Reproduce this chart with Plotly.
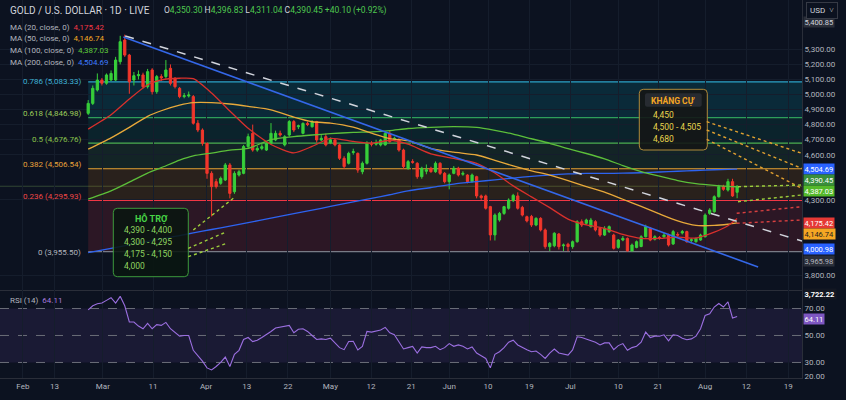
import plotly.graph_objects as go
from plotly.subplots import make_subplots

# daily candles, left to right
opens = [4875, 4941, 5030, 5096, 5075, 5096, 5096, 5218, 5362, 5262,
         5096, 5125, 5130, 5052, 5163, 5019, 5119, 5119, 5174, 5108,
         5041, 4986, 4990, 4986, 4809, 4764, 4676, 4476, 4421, 4410,
         4432, 4532, 4354, 4465, 4476, 4654, 4742, 4631, 4642, 4631,
         4676, 4698, 4742, 4665, 4731, 4820, 4786, 4742, 4808, 4786,
         4820, 4698, 4720, 4680, 4698, 4665, 4576, 4543, 4615, 4609,
         4487, 4543, 4676, 4670, 4665, 4665, 4742, 4700, 4698, 4631,
         4509, 4554, 4543, 4454, 4490, 4510, 4487, 4543, 4476, 4421,
         4476, 4510, 4470, 4465, 4421, 4454, 4326, 4326, 4255, 4067,
         4166, 4210, 4244, 4295, 4326, 4250, 4188, 4190, 4133, 4177,
         4100, 3989, 3995, 4073, 3995, 4005, 3989, 4022, 4155, 4144,
         4122, 4155, 4111, 4066, 4089, 4066, 3984, 4033, 4044, 3960,
         3984, 3990, 4055, 4111, 4038, 4050, 4055, 4066, 4007, 4070,
         4080, 4089, 4030, 4022, 4033, 4055, 4210, 4221, 4321, 4388,
         4365, 4421, 4350.30]
highs = [4963, 5060, 5140, 5110, 5140, 5160, 5250, 5390, 5398, 5270,
         5150, 5160, 5145, 5170, 5175, 5130, 5135, 5229, 5200, 5115,
         5050, 5010, 5020, 4997, 4830, 4775, 4680, 4490, 4440, 4455,
         4545, 4545, 4490, 4500, 4665, 4740, 4800, 4660, 4670, 4690,
         4810, 4760, 4760, 4730, 4830, 4830, 4800, 4815, 4820, 4830,
         4825, 4730, 4740, 4715, 4705, 4670, 4590, 4620, 4640, 4615,
         4555, 4690, 4690, 4700, 4705, 4755, 4760, 4720, 4710, 4640,
         4565, 4570, 4550, 4520, 4535, 4520, 4555, 4550, 4485, 4475,
         4525, 4520, 4490, 4470, 4475, 4460, 4335, 4335, 4260, 4210,
         4220, 4260, 4310, 4340, 4350, 4260, 4195, 4200, 4185, 4185,
         4110, 4020, 4085, 4080, 4010, 4015, 4030, 4165, 4170, 4175,
         4180, 4165, 4120, 4125, 4130, 4075, 4040, 4060, 4050, 4010,
         4030, 4065, 4135, 4120, 4065, 4060, 4080, 4075, 4100, 4085,
         4100, 4095, 4045, 4050, 4075, 4210, 4245, 4330, 4400, 4400,
         4440, 4440, 4396.83]
lows = [4864, 4930, 5020, 5060, 5065, 5090, 5090, 5200, 5250, 5005,
        5060, 5100, 5040, 5040, 5000, 5005, 5090, 5105, 5060, 5040,
        4975, 4975, 4980, 4800, 4750, 4660, 4440, 4190, 4375, 4400,
        4425, 4310, 4340, 4455, 4470, 4640, 4620, 4620, 4630, 4625,
        4670, 4690, 4720, 4655, 4720, 4750, 4770, 4735, 4790, 4780,
        4680, 4690, 4655, 4670, 4655, 4565, 4505, 4535, 4600, 4480,
        4470, 4535, 4655, 4660, 4655, 4660, 4680, 4690, 4620, 4505,
        4500, 4540, 4440, 4440, 4470, 4480, 4480, 4465, 4410, 4370,
        4470, 4455, 4460, 4410, 4415, 4310, 4300, 4235, 4030, 4030,
        4155, 4200, 4235, 4285, 4235, 4190, 4150, 4120, 4125, 4090,
        3975, 3960, 3985, 3970, 3960, 3958, 3975, 4015, 4120, 4135,
        4115, 4090, 4055, 4060, 4080, 3970, 3975, 4025, 3955.50, 3958,
        3978, 3985, 4050, 4025, 4030, 4035, 4045, 3990, 4000, 4055,
        4070, 4015, 4020, 4015, 4028, 4050, 4200, 4215, 4315, 4360,
        4355, 4320, 4311.04]
closes = [4941, 5041, 5096, 5075, 5130, 5140, 5229, 5351, 5262, 5085,
          5125, 5132, 5052, 5152, 5019, 5119, 5110, 5163, 5074, 5052,
          4986, 4992, 4997, 4809, 4764, 4676, 4476, 4388, 4388, 4443,
          4532, 4343, 4476, 4487, 4654, 4720, 4631, 4642, 4653, 4676,
          4742, 4742, 4731, 4720, 4820, 4764, 4792, 4808, 4800, 4820,
          4698, 4709, 4665, 4700, 4665, 4576, 4521, 4609, 4620, 4498,
          4543, 4676, 4670, 4680, 4698, 4742, 4687, 4709, 4631, 4521,
          4554, 4550, 4454, 4510, 4500, 4487, 4543, 4476, 4421, 4465,
          4510, 4465, 4476, 4421, 4465, 4326, 4315, 4244, 4067, 4199,
          4210, 4255, 4299, 4330, 4244, 4199, 4160, 4133, 4177, 4100,
          3989, 4011, 4078, 3989, 4000, 3990, 4022, 4155, 4133, 4166,
          4166, 4100, 4066, 4111, 4122, 3978, 4033, 4044, 3962, 4000,
          4022, 4055, 4122, 4033, 4055, 4045, 4066, 4000, 4089, 4066,
          4089, 4022, 4035, 4044, 4066, 4199, 4233, 4321, 4388, 4370,
          4421, 4326, 4390.45]
rsi_values = [69, 72, 73.5, 74, 76, 78, 74, 79, 72, 60,
              60, 57, 55, 59, 55, 58, 57.5, 59.7, 55, 52,
              49.5, 50, 50, 39, 35, 31, 26, 24.5, 27, 30,
              34, 27, 36, 39, 47, 48.5, 45.5, 46.5, 48.5, 50.5,
              53, 55.5, 56, 57, 57.5, 52, 54.6, 55, 53, 50,
              47, 47.5, 47, 48, 44.5, 41, 39.5, 45.5, 45.7, 39.3,
              41.9, 53, 52.5, 53, 54, 56, 52, 50.5, 45, 40,
              41, 41.9, 37, 41.5, 41, 41, 42, 39.5, 41, 44,
              42, 43, 42, 40, 41.5, 37, 35, 33, 26, 36,
              38, 41, 45, 46.5, 43, 41, 39.5, 38, 38.5, 36,
              33, 37, 40, 37, 36, 35.5, 39.3, 49, 48.5, 47.5,
              46.5, 45, 43, 44.5, 44.5, 39.5, 42.5, 44, 39, 41,
              42, 45, 52.5, 48.5, 49.5, 49.5, 50.5, 46, 50.5, 50,
              48, 46.9, 47.5, 49.5, 55, 64.8, 66, 71.1, 73.7, 71.1,
              74.9, 63, 64.11]

# moving averages, read at some of the bars
ma_bars = [0, 5, 9, 13, 16, 20, 23, 27, 31, 35, 40, 45, 49, 53, 58, 62, 66, 70,
           75, 80, 85, 89, 93, 97, 101, 105, 109, 113, 117, 121, 125, 129, 133,
           137, 140, 142]
ma20 = [4770, 4865, 4970, 5065, 5097, 5108, 5105, 5010, 4890, 4775, 4668, 4612,
        4655, 4708, 4688, 4676, 4696, 4670, 4606, 4575, 4543, 4478, 4393, 4320,
        4248, 4172, 4133, 4111, 4070, 4044, 4044, 4052, 4046, 4085, 4128, 4175.42]
ma50 = [4637, 4712, 4782, 4855, 4892, 4929, 4946, 4946, 4937, 4921, 4898, 4850,
        4819, 4810, 4783, 4743, 4707, 4693, 4641, 4617, 4598, 4562, 4525, 4492,
        4465, 4428, 4388, 4351, 4304, 4257, 4207, 4160, 4130, 4130, 4138, 4146.74]
ma100 = [4305, 4360, 4418, 4478, 4514, 4564, 4592, 4611, 4630, 4642, 4700, 4720,
         4731, 4740, 4748, 4752, 4760, 4774, 4782, 4786, 4782, 4762, 4737, 4706,
         4676, 4640, 4608, 4572, 4528, 4488, 4457, 4428, 4408, 4396, 4390, 4387.03]
ma200 = [3950, 3978, 4001, 4024, 4041, 4063, 4080, 4103, 4126, 4149, 4178, 4208,
         4232, 4256, 4286, 4310, 4334, 4360, 4382, 4405, 4421, 4433, 4445, 4456,
         4465, 4472, 4476, 4476, 4477, 4480, 4485, 4490, 4495, 4500, 4503, 4504.69]

fib_ratios = ["0", "0.236", "0.382", "0.5", "0.618", "0.786"]
fib_prices = [3955.50, 4295.93, 4506.54, 4676.76, 4846.98, 5083.33]

# trend lines: (bar, price) at each end
trend_blue = ([7.7, 146.6], [5382, 3854])
trend_dash = ([8.1, 156.2], [5389, 4026])

x_tick_bars = [-14.3, -7.4, 3.2, 14.2, 25.8, 34.7, 43.7, 53.0, 61.9, 70.7,
               79.0, 87.5, 96.5, 105.5, 116.0, 124.7, 135.0, 144.0, 153.2]
x_tick_text = ["Feb", "13", "Mar", "11", "Apr", "13", "22", "May", "12", "21",
               "Jun", "10", "19", "Jul", "10", "21", "Aug", "12", "19"]
price_ticks = [3800, 4300, 4600, 4700, 4800, 4900, 5000, 5100, 5200, 5300]
rsi_ticks = [20, 30, 50, 70]

support_levels = ["4,390 - 4,400", "4,300 - 4,295", "4,175 - 4,150", "4,000"]
resistance_levels = ["4,450", "4,500 - 4,505", "4,680"]

BG = "#0c1220"
GREEN = "#37cf3a"
RED = "#f2362b"
TXT = "#b2b5be"
FONT = "Roboto"

W, H = 802, 378  # plot area in pixels


def px(x):
  return x / W


def py(y):
  return (H - y) / H


def rounded(x0, y0, x1, y1, r=4):
  return (f"M {px(x0 + r)},{py(y0)} L {px(x1 - r)},{py(y0)} "
          f"Q {px(x1)},{py(y0)} {px(x1)},{py(y0 + r)} L {px(x1)},{py(y1 - r)} "
          f"Q {px(x1)},{py(y1)} {px(x1 - r)},{py(y1)} L {px(x0 + r)},{py(y1)} "
          f"Q {px(x0)},{py(y1)} {px(x0)},{py(y1 - r)} L {px(x0)},{py(y0 + r)} "
          f"Q {px(x0)},{py(y0)} {px(x0 + r)},{py(y0)} Z")


bars = list(range(len(closes)))
x_range = [-19.3, 156.2]

fig = make_subplots(rows=2, cols=1, shared_xaxes=True, vertical_spacing=0,
                    row_heights=[290, 88])

fig.add_trace(go.Candlestick(
  x=bars, open=opens, high=highs, low=lows, close=closes,
  increasing=dict(line=dict(color=GREEN, width=1), fillcolor=GREEN),
  decreasing=dict(line=dict(color=RED, width=1), fillcolor=RED),
  whiskerwidth=0, hoverinfo="skip", showlegend=False), row=1, col=1)

ma_lines = [(ma200, "#2d63f0"), (ma100, "#5cbf3a"), (ma50, "#e8a93a"), (ma20, "#d9302c")]
for vals, color in ma_lines:
  fig.add_trace(go.Scatter(
    x=ma_bars, y=vals, mode="lines",
    line=dict(color=color, width=1.3, shape="spline", smoothing=0.6),
    hoverinfo="skip", showlegend=False), row=1, col=1)

fig.add_trace(go.Scatter(
  x=bars, y=rsi_values, mode="lines", line=dict(color="#9b6fe0", width=1.1),
  hoverinfo="skip", showlegend=False), row=2, col=1)

shapes = []
# fibonacci zones and levels
zone_fill = ["rgba(242,54,69,0.14)", "rgba(255,152,0,0.12)", "rgba(76,175,80,0.12)",
             "rgba(8,153,129,0.13)", "rgba(0,188,212,0.14)"]
level_color = ["#787b86", "#f23645", "#e6a233", "#4caf50", "#2e9e5a", "#2ba3c8"]
label_color = ["#b2b5be", "#f04848", "#e8a33a", "#8bc34a", "#9ccc5a", "#3fb3d6"]
for i in range(len(fib_prices) - 1):
  shapes.append(dict(type="rect", xref="x", yref="y", x0=0, x1=x_range[1],
                     y0=fib_prices[i], y1=fib_prices[i + 1], fillcolor=zone_fill[i],
                     line_width=0, layer="below"))
for i, p in enumerate(fib_prices):
  shapes.append(dict(type="line", xref="x", yref="y", x0=0, x1=x_range[1], y0=p, y1=p,
                     line=dict(color=level_color[i], width=1.2), layer="below"))

# last price line
shapes.append(dict(type="line", xref="paper", yref="y", x0=0, x1=1, y0=closes[-1], y1=closes[-1],
                   line=dict(color="rgba(120,170,90,0.35)", width=1), layer="below"))

# trend lines
shapes.append(dict(type="line", xref="x", yref="y", x0=trend_blue[0][0], x1=trend_blue[0][1],
                   y0=trend_blue[1][0], y1=trend_blue[1][1],
                   line=dict(color="#3467e8", width=1.6)))
shapes.append(dict(type="line", xref="x", yref="y", x0=trend_dash[0][0], x1=trend_dash[0][1],
                   y0=trend_dash[1][0], y1=trend_dash[1][1],
                   line=dict(color="#d1d4dc", width=1.5, dash="dash")))

# rsi band and levels
shapes.append(dict(type="rect", xref="paper", yref="y2", x0=0, x1=1, y0=30, y1=70,
                   fillcolor="rgba(126,87,194,0.13)", line_width=0, layer="below"))
for lvl in [70, 50, 30]:
  shapes.append(dict(type="line", xref="paper", yref="y2", x0=0, x1=1, y0=lvl, y1=lvl,
                     line=dict(color="#6a6d78", width=1, dash="dash"), layer="below"))

# support / resistance callouts (drawn in screen space)
shapes.append(dict(type="path", xref="paper", yref="paper", path=rounded(113.3, 208.3, 188.3, 276.7),
                   fillcolor="rgba(9,22,16,0.88)", line=dict(color="#3c9a3c", width=1)))
shapes.append(dict(type="path", xref="paper", yref="paper", path=rounded(639.3, 89.3, 707.3, 150),
                   fillcolor="rgba(20,22,22,0.9)", line=dict(color="#b08a3a", width=1)))
shapes.append(dict(type="path", xref="paper", yref="paper", path=rounded(645, 93.3, 701.7, 106.7, 2),
                   fillcolor="#272b31", line_width=0))

dotted = [
  ((193.3, 230), (233.3, 198.3), "#9ccc3c"),
  ((188.3, 248.3), (226.7, 231.7), "#9ccc3c"),
  ((188.3, 256.7), (226.7, 243.3), "#9ccc3c"),
  ((706.7, 121.7), (801.7, 153.3), "#e0a030"),
  ((706.7, 130), (801.7, 168.3), "#e0a030"),
  ((706.7, 139.3), (801.7, 188.3), "#e0a030"),
  ((738, 186.7), (801.7, 185), "#9ccc3c"),
  ((738, 201.7), (801.7, 195), "#9ccc3c"),
  ((736.7, 213.3), (801.7, 206.7), "#d84040"),
  ((736.7, 223.3), (801.7, 220), "#d84040"),
]
for a, b, c in dotted:
  shapes.append(dict(type="line", xref="paper", yref="paper", x0=px(a[0]), y0=py(a[1]),
                     x1=px(b[0]), y1=py(b[1]), line=dict(color=c, width=1.4, dash="dot")))

annotations = []


def note(text, x, y, size=8, color=TXT, xanchor="left", **kw):
  annotations.append(dict(text=text, x=px(x), y=py(y), xref="paper", yref="paper",
                          xanchor=xanchor, yanchor="middle", showarrow=False,
                          font=dict(family=FONT, size=size, color=color), **kw))


note("GOLD / U.S. DOLLAR · 1D · LIVE", 8, 10, size=10, color="#d1d4dc")
g = "#4fc84f"
ohlc = (f"O<span style='color:{g}'>4,350.30</span> H<span style='color:{g}'>4,396.83</span> "
        f"L<span style='color:{g}'>4,311.04</span> C<span style='color:{g}'>4,390.45</span> "
        f"<span style='color:{g}'>+40.10 (+0.92%)</span>")
note(ohlc, 162, 10, size=8.5, color="#d1d4dc")

ma_legend = [("MA (20, close, 0)", ma20[-1], "#f23645"), ("MA (50, close, 0)", ma50[-1], "#f5a623"),
             ("MA (100, close, 0)", ma100[-1], "#5cc83a"), ("MA (200, close, 0)", ma200[-1], "#3d7bff")]
for k, (name, val, col) in enumerate(ma_legend):
  note(f"{name}  <span style='color:{col}'>{val:,.2f}</span>", 8, 27.3 + k * 11.6, size=8)

for i, (r, p) in enumerate(zip(fib_ratios, fib_prices)):
  shift = 0 if r == "0.786" else (-1 if r == "0" else 4)
  annotations.append(dict(text=f"{r} ({p:,.2f})", x=px(83), y=p, xref="paper", yref="y",
                          xanchor="right", yanchor="middle", yshift=shift, showarrow=False,
                          font=dict(family=FONT, size=8, color=label_color[i])))

note("<b>HỖ TRỢ</b>", 151, 218, size=9, color="#46d446", xanchor="center")
for k, t in enumerate(support_levels):
  note(t, 122, 229.7 + k * 12.2, size=8.5, color="#8fd460")
note("<b>KHÁNG CỰ</b>", 673.3, 100, size=8.5, color="#f5a623", xanchor="center")
for k, t in enumerate(resistance_levels):
  note(t, 650.7, 115 + k * 12.2, size=8.5, color="#e8d44d")

note(f"RSI (14)  <span style='color:#a77bde'>{rsi_values[-1]:.2f}</span>", 8, 300, size=8)

# value badges on the price scale
badges = [
  ("5,400.85", 22, "#2a2e39", "#d1d4dc"),
  ("4,504.69", 169.5, "#2962ff", "#ffffff"),
  ("4,390.45", 180, "#388e3c", "#ffffff"),
  ("4,387.03", 190.5, "#54b92a", "#ffffff"),
  ("4,175.42", 222.5, "#e53935", "#ffffff"),
  ("4,146.74", 234, "#f5a623", "#1e1e1e"),
  ("4,000.98", 249.5, "#2962ff", "#ffffff"),
  ("3,965.98", 261, "#2a2e39", "#b2b5be"),
  ("<b>3,722.22</b>", 294.3, "#131722", "#ffffff"),
  ("64.11", 319, "#7e57c2", "#ffffff"),
]
for t, y, bg, fg in badges:
  note(t, 803, y, size=7.5, color=fg, bgcolor=bg, borderpad=0.5)
note("USD  ˅", 821.5, 10.5, size=8, color="#d1d4dc", xanchor="center",
     bgcolor=BG, bordercolor="#363a45", borderwidth=1, borderpad=3)

axis_font = dict(family=FONT, size=8, color=TXT)
grid = "#151d2c"
fig.update_xaxes(range=x_range, tickmode="array", tickvals=x_tick_bars, ticktext=x_tick_text,
                 showgrid=True, gridcolor=grid, zeroline=False, showline=True,
                 linecolor="#2a2e39", tickfont=axis_font, rangeslider_visible=False)
fig.update_xaxes(showticklabels=False, row=1, col=1)
fig.update_yaxes(side="right", range=[3701, 5628], tickmode="array", tickvals=price_ticks,
                 tickformat=",.2f", showgrid=True, gridcolor=grid, zeroline=False,
                 showline=True, linecolor="#2a2e39", tickfont=axis_font, row=1, col=1)
fig.update_yaxes(side="right", range=[18.5, 83.7], tickmode="array", tickvals=rsi_ticks,
                 tickformat=".2f", showgrid=False, zeroline=False,
                 showline=True, linecolor="#2a2e39", tickfont=axis_font, row=2, col=1)

fig.update_layout(
  width=846, height=400,
  margin=dict(l=0, r=44, t=0, b=22),
  paper_bgcolor=BG, plot_bgcolor=BG,
  font=dict(family=FONT, color=TXT),
  showlegend=False, hovermode=False,
  shapes=shapes, annotations=annotations,
)

# drop the browser's default page margin so the figure sits flush in the window
fig.write_html("out.html", config={"displayModeBar": False},
               post_script="document.body.style.margin='0';")
